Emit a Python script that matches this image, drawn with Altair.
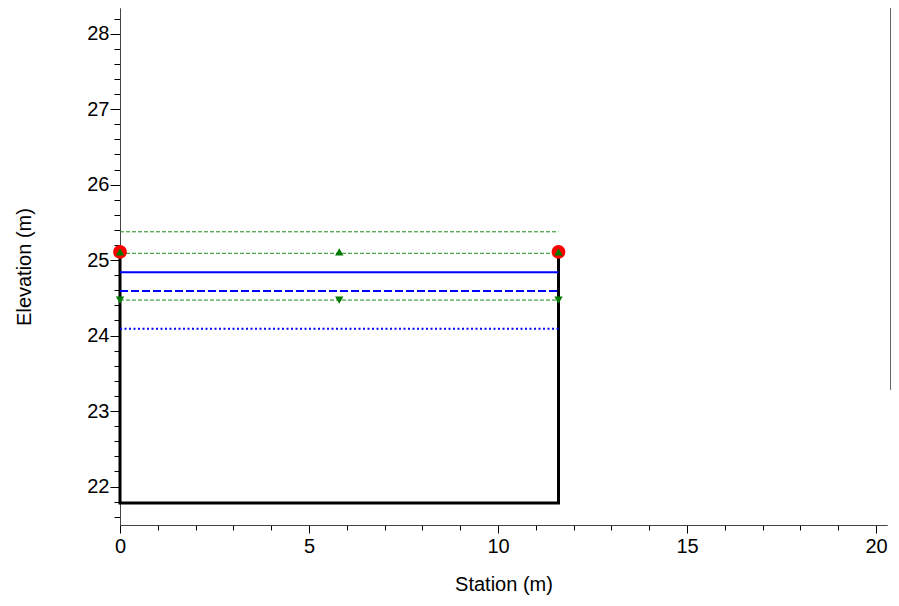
import altair as alt
import pandas as pd

# ---- data ----
channel_x = [0.0, 0.0, 11.6, 11.6]
channel_y = [25.11, 21.78, 21.78, 25.11]
bank_x = [0.0, 11.6]
bank_y = [25.11, 25.11]
level_start = 0.0
level_end = 11.6
green_levels = [25.375, 25.09, 24.47]
blue_solid_level = 24.84
blue_dashed_level = 24.59
blue_dotted_level = 24.09
up_x = [0.0, 5.8, 11.6]
up_y = [25.11, 25.11, 25.11]
down_x = [0.0, 5.8, 11.6]
down_y = [24.47, 24.47, 24.47]
x_major = [0, 5, 10, 15, 20]
x_minor = list(range(0, 21))
y_major = [22, 23, 24, 25, 26, 27, 28]
y_minor = [round(21.6 + 0.2 * i, 1) for i in range(0, 34)]

X_DOMAIN = [0, 20.29]
Y_DOMAIN = [21.49, 28.34]
FONT = "Liberation Sans"

xs = alt.Scale(domain=X_DOMAIN, nice=False, zero=False)
ys = alt.Scale(domain=Y_DOMAIN, nice=False, zero=False)

major_x_axis = alt.Axis(values=x_major, format="d", title="Station (m)", orient="bottom",
                        grid=False, tickSize=8, tickColor="black", domainColor="#444",
                        labelFont=FONT, labelFontSize=20, labelColor="black", labelPadding=3,
                        labelFlush=False,
                        titleFont=FONT, titleFontSize=20, titleFontWeight="normal",
                        titleColor="black", titlePadding=18)
minor_x_axis = alt.Axis(values=x_minor, labels=False, title=None, orient="bottom", grid=False,
                        tickSize=5, tickColor="black", domainColor="#444")
major_y_axis = alt.Axis(values=y_major, format="d", title="Elevation (m)", orient="left",
                        grid=False, tickSize=10, tickColor="black", domainColor="#444",
                        labelFont=FONT, labelFontSize=20, labelColor="black", labelPadding=1,
                        labelFlush=False,
                        titleFont=FONT, titleFontSize=20, titleFontWeight="normal",
                        titleColor="black", titlePadding=52)
minor_y_axis = alt.Axis(values=y_minor, labels=False, title=None, orient="left", grid=False,
                        tickSize=6, tickColor="black", domainColor="#444")

channel_df = pd.DataFrame({"x": channel_x, "y": channel_y, "o": list(range(len(channel_x)))})
channel = alt.Chart(channel_df).mark_line(color="black", strokeWidth=3, clip=False).encode(
    x=alt.X("x:Q", scale=xs, axis=major_x_axis),
    y=alt.Y("y:Q", scale=ys, axis=major_y_axis),
    order="o:O",
)

minor_df = pd.DataFrame({"x": [X_DOMAIN[0]], "y": [Y_DOMAIN[0]]})
minor = alt.Chart(minor_df).mark_point(opacity=0).encode(
    x=alt.X("x:Q", scale=xs, axis=minor_x_axis),
    y=alt.Y("y:Q", scale=ys, axis=minor_y_axis),
)

def level_rule(levels, color, width, dash):
    df = pd.DataFrame({"x": [level_start] * len(levels), "x2": [level_end] * len(levels), "y": levels})
    return alt.Chart(df).mark_rule(color=color, strokeWidth=width, strokeDash=dash).encode(
        x=alt.X("x:Q", scale=xs, axis=None),
        x2="x2:Q",
        y=alt.Y("y:Q", scale=ys, axis=None),
    )

green = level_rule(green_levels, "#1a8c1a", 1, [4, 2])
blue_solid = level_rule([blue_solid_level], "#0000ff", 2, [1, 0])
blue_dashed = level_rule([blue_dashed_level], "#0000ff", 2, [8, 3])
blue_dotted = level_rule([blue_dotted_level], "#0000ff", 2, [2, 2.5])

bank_df = pd.DataFrame({"x": bank_x, "y": bank_y})
banks = alt.Chart(bank_df).mark_point(shape="circle", filled=True, color="#ff0000",
                                       size=190, opacity=1, clip=False).encode(
    x=alt.X("x:Q", scale=xs, axis=None),
    y=alt.Y("y:Q", scale=ys, axis=None),
)

up_df = pd.DataFrame({"x": up_x, "y": up_y})
ups = alt.Chart(up_df).mark_point(shape="triangle-up", filled=True, color="#007a00",
                                   size=70, opacity=1, clip=False).encode(
    x=alt.X("x:Q", scale=xs, axis=None),
    y=alt.Y("y:Q", scale=ys, axis=None),
)
down_df = pd.DataFrame({"x": down_x, "y": down_y})
downs = alt.Chart(down_df).mark_point(shape="triangle-down", filled=True, color="#007a00",
                                       size=70, opacity=1, clip=False).encode(
    x=alt.X("x:Q", scale=xs, axis=None),
    y=alt.Y("y:Q", scale=ys, axis=None),
)

# edge of the (cut-off) legend box at the right border
edge = alt.Chart(pd.DataFrame({"a": [0]})).mark_rule(color="#666", strokeWidth=1, clip=False).encode(
    x=alt.value(770.5), y=alt.value(-1), y2=alt.value(382)
)

chart = alt.layer(
    minor, channel, green, blue_solid, blue_dashed, blue_dotted, banks, ups, downs, edge
).resolve_axis(x="independent", y="independent").properties(
    width=767, height=517,
    padding={"left": 112, "top": 0, "right": 4, "bottom": 70},
    autosize=alt.AutoSizeParams(type="none"),
    background="white",
).configure_view(stroke=None)

chart.save("out.html", embed_options={"renderer": "svg", "actions": False})
